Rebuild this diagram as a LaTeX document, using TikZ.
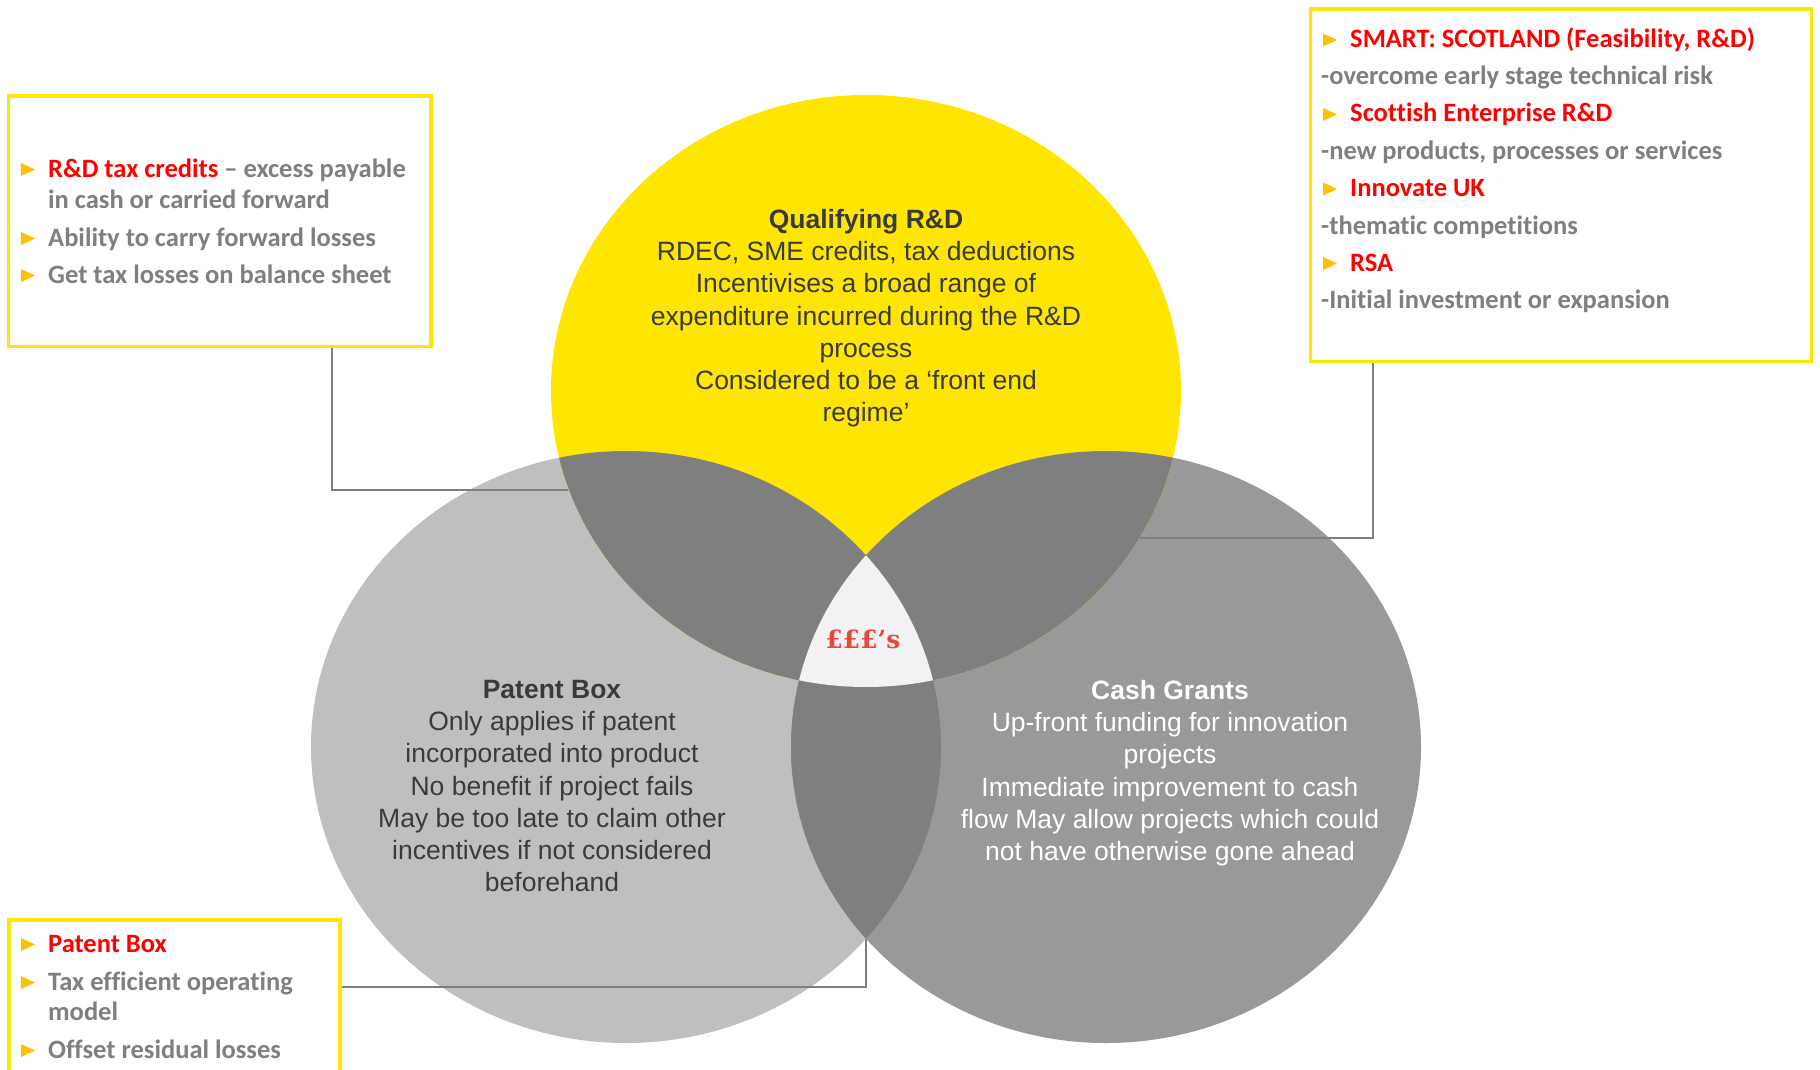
\documentclass[tikz,border=0pt]{standalone}
\usepackage{fontspec}
\setmainfont{Liberation Sans}
\newfontfamily\calib{Carlito}[Ligatures={NoCommon}]
\newfontfamily\slab{DejaVu Serif}

\definecolor{eyyellow}{HTML}{FFE600}
\definecolor{lgray}{HTML}{BFBFBF}
\definecolor{mgray}{HTML}{999999}
\definecolor{dgray}{HTML}{7F7F7F}
\definecolor{core}{HTML}{F2F2F2}
\definecolor{ink}{HTML}{3A3A3A}
\definecolor{notegray}{HTML}{7F7F7F}
\definecolor{notered}{HTML}{FF0000}
\definecolor{bulc}{HTML}{FFC000}
\definecolor{pound}{HTML}{E8473C}
\definecolor{linkgray}{HTML}{7F7F7F}

\begin{document}
\begin{tikzpicture}[x=1pt,y=-1pt,
  venn/.style={x radius=315,y radius=296},
  infobox/.style={draw=eyyellow,line width=3.5pt,inner sep=0pt},
  link/.style={draw=linkgray,line width=2.5pt},
  noteline/.style={anchor=base west,inner sep=0pt,text=notegray,
    font=\calib\bfseries\fontsize{26.5}{31}\selectfont},
  circtext/.style={anchor=north,align=center,inner sep=0pt,
    font=\fontsize{26.5}{32.2}\selectfont},
  tri/.pic={\fill[bulc] (0,0) -- (14,6.5) -- (0,13) -- cycle;}
]
% canvas
\fill[white] (0,0) rectangle (1820,1070);
\useasboundingbox (0,0) rectangle (1820,1070);

% centres of the three sets
\coordinate (Y) at (866,391);
\coordinate (L) at (626,747);
\coordinate (R) at (1106,747);

% base discs
\fill[lgray] (L) ellipse [venn];
\fill[mgray] (R) ellipse [venn];
\fill[eyyellow] (Y) ellipse [venn];

% pairwise overlaps
\begin{scope}
  \clip (Y) ellipse [venn];
  \fill[dgray] (L) ellipse [venn];
  \fill[dgray] (R) ellipse [venn];
\end{scope}
\begin{scope}
  \clip (L) ellipse [venn];
  \fill[dgray] (R) ellipse [venn];
\end{scope}
% triple overlap
\begin{scope}
  \clip (L) ellipse [venn];
  \clip (R) ellipse [venn];
  \fill[core] (Y) ellipse [venn];
\end{scope}

% call-out boxes
\node[infobox,minimum width=422.5pt,minimum height=250.5pt] (rdbox) at (219.75,221.25) {};
\node[infobox,minimum width=501pt,minimum height=352.7pt] (grbox) at (1561.2,185.35) {};
\node[infobox,minimum width=331pt,minimum height=165pt] (pbbox) at (174.5,1002.5) {};

% connectors
\coordinate (rdbend) at (332,490);
\coordinate (rdtip) at (568,490);
\coordinate (grbend) at (1373,538);
\coordinate (grtip) at (1140,538);
\coordinate (pbbend) at (866,987);
\coordinate (pbtip) at (866,939);
\draw[link] (rdbend |- rdbox.south) -- (rdbend) -- (rdtip);
\draw[link] (grbend |- grbox.south) -- (grbend) -- (grtip);
\draw[link] (pbbend -| pbbox.east) -- (pbbend) -- (pbtip);

% set texts
\node[circtext,text=ink] (qrd) at (866,209) {\textbf{Qualifying R\&D}\\RDEC, SME credits, tax deductions\\Incentivises a broad range of\\expenditure incurred during the R\&D\\process\\Considered to be a ‘front end\\regime’};
\node[circtext,text=ink] (ptb) at (552,680) {\textbf{Patent Box}\\Only applies if patent\\incorporated into product\\No benefit if project fails\\May be too late to claim other\\incentives if not considered\\beforehand};
\node[circtext,text=white] (cgr) at (1170,680) {\textbf{Cash Grants}\\Up-front funding for innovation\\projects\\Immediate improvement to cash\\flow May allow projects which could\\not have otherwise gone ahead};
\node[anchor=base,inner sep=0pt,text=pound,font=\slab\bfseries\fontsize{25}{30}\selectfont] (money) at (863,648) {£££’s};

% R&D tax credits box
\pic at (21,163) {tri};
\pic at (21,232) {tri};
\pic at (21,269) {tri};
\node[noteline] (rd1) at (48,177) {\textcolor{notered}{R\&D tax credits} – excess payable};
\node[noteline] (rd2) at (48,208) {in cash or carried forward};
\node[noteline] (rd3) at (48,246) {Ability to carry forward losses};
\node[noteline] (rd4) at (48,283) {Get tax losses on balance sheet};

% grants box
\pic at (1323,33.5) {tri};
\pic at (1323,108) {tri};
\pic at (1323,182.5) {tri};
\pic at (1323,257) {tri};
\node[noteline,text=notered] (gr1) at (1350,47.5) {SMART: SCOTLAND (Feasibility, R\&D)};
\node[noteline] (gr2) at (1321,85) {-overcome early stage technical risk};
\node[noteline,text=notered] (gr3) at (1350,122) {Scottish Enterprise R\&D};
\node[noteline] (gr4) at (1321,159) {-new products, processes or services};
\node[noteline,text=notered] (gr5) at (1350,196.5) {Innovate UK};
\node[noteline] (gr6) at (1321,234) {-thematic competitions};
\node[noteline,text=notered] (gr7) at (1350,271) {RSA};
\node[noteline] (gr8) at (1321,308) {-Initial investment or expansion};

% patent box box
\pic at (21,938) {tri};
\pic at (21,976) {tri};
\pic at (21,1044) {tri};
\node[noteline,text=notered] (pb1) at (48,952) {Patent Box};
\node[noteline] (pb2) at (48,990) {Tax efficient operating};
\node[noteline] (pb3) at (48,1020) {model};
\node[noteline] (pb4) at (48,1058) {Offset residual losses};
\end{tikzpicture}
\end{document}
